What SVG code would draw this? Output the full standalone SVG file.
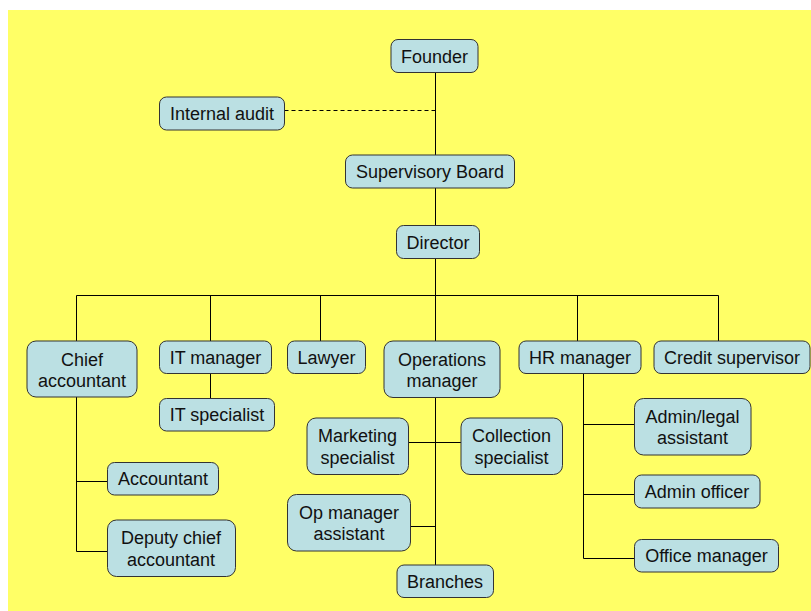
<svg xmlns="http://www.w3.org/2000/svg" width="811" height="611" viewBox="0 0 811 611">
<style>
.n rect{fill:#BBE0E3;stroke:#333;stroke-width:1}
.n text{font-family:"Liberation Sans",Arial,sans-serif;font-size:18px;fill:#111;text-anchor:middle}
.c line{stroke:#000;stroke-width:1;fill:none}
.c .d{stroke-dasharray:4,3}
</style>
<rect x="8" y="10" width="803" height="601" fill="#FFFF66"/>
<g class="c">
<line x1="435.5" y1="72.5" x2="435.5" y2="155"/>
<line class="d" x1="284.5" y1="110.5" x2="435.5" y2="110.5"/>
<line x1="435.5" y1="188" x2="435.5" y2="225"/>
<line x1="435.5" y1="258" x2="435.5" y2="341"/>
<line x1="76.5" y1="295.5" x2="718.5" y2="295.5"/>
<line x1="76.5" y1="295.5" x2="76.5" y2="341"/>
<line x1="210.5" y1="295.5" x2="210.5" y2="341"/>
<line x1="320.5" y1="295.5" x2="320.5" y2="341"/>
<line x1="577.5" y1="295.5" x2="577.5" y2="341"/>
<line x1="718.5" y1="295.5" x2="718.5" y2="341"/>
<line x1="210.5" y1="373" x2="210.5" y2="398"/>
<line x1="76.5" y1="397" x2="76.5" y2="551.5"/>
<line x1="76.5" y1="481.5" x2="107.5" y2="481.5"/>
<line x1="76.5" y1="551.5" x2="107.5" y2="551.5"/>
<line x1="435.5" y1="397.5" x2="435.5" y2="565"/>
<line x1="408.5" y1="442.5" x2="461" y2="442.5"/>
<line x1="410.5" y1="526.5" x2="435.5" y2="526.5"/>
<line x1="583.5" y1="373" x2="583.5" y2="558.5"/>
<line x1="583.5" y1="424.5" x2="634.5" y2="424.5"/>
<line x1="583.5" y1="494.5" x2="634.5" y2="494.5"/>
<line x1="583.5" y1="558.5" x2="634.5" y2="558.5"/>
</g>
<g id="founder" class="n"><rect x="391" y="39.5" width="87" height="33" rx="7"/><text x="434.5" y="62.5">Founder</text></g>
<g id="internal-audit" class="n"><rect x="159.5" y="97" width="125" height="33" rx="7"/><text x="222" y="120">Internal audit</text></g>
<g id="supervisory-board" class="n"><rect x="345.5" y="155" width="169" height="33" rx="7"/><text x="430" y="178">Supervisory Board</text></g>
<g id="director" class="n"><rect x="396.5" y="225.5" width="83" height="33" rx="7"/><text x="438" y="248.5">Director</text></g>
<g id="chief-accountant" class="n"><rect x="27" y="341" width="110" height="56" rx="9"/><text x="82" y="365.5">Chief</text><text x="82" y="387">accountant</text></g>
<g id="it-manager" class="n"><rect x="159.5" y="341" width="112" height="32.5" rx="7"/><text x="215.5" y="363.5">IT manager</text></g>
<g id="it-specialist" class="n"><rect x="159.5" y="398.5" width="115" height="32.5" rx="7"/><text x="217" y="421">IT specialist</text></g>
<g id="lawyer" class="n"><rect x="287.5" y="341" width="78" height="32.5" rx="7"/><text x="326.5" y="363.5">Lawyer</text></g>
<g id="operations-manager" class="n"><rect x="384" y="341" width="116" height="56.5" rx="9"/><text x="442" y="365.5">Operations</text><text x="442" y="387">manager</text></g>
<g id="hr-manager" class="n"><rect x="519" y="341" width="122" height="32.5" rx="7"/><text x="580" y="363.5">HR manager</text></g>
<g id="credit-supervisor" class="n"><rect x="654" y="341" width="156" height="32.5" rx="7"/><text x="732" y="363.5">Credit supervisor</text></g>
<g id="marketing-specialist" class="n"><rect x="307" y="418" width="101.5" height="56.5" rx="9"/><text x="357.5" y="442">Marketing</text><text x="357.5" y="463.5">specialist</text></g>
<g id="collection-specialist" class="n"><rect x="461" y="418" width="101.5" height="56.5" rx="9"/><text x="511.5" y="442">Collection</text><text x="511.5" y="463.5">specialist</text></g>
<g id="admin-legal-assistant" class="n"><rect x="634.5" y="398.5" width="116.5" height="56.5" rx="9"/><text x="692.5" y="422.5">Admin/legal</text><text x="692.5" y="444">assistant</text></g>
<g id="admin-officer" class="n"><rect x="634.5" y="475" width="125.5" height="33" rx="7"/><text x="697" y="498">Admin officer</text></g>
<g id="office-manager" class="n"><rect x="634.5" y="539.5" width="144" height="32.5" rx="7"/><text x="706.5" y="562">Office manager</text></g>
<g id="accountant" class="n"><rect x="107.5" y="462.5" width="111" height="32.5" rx="7"/><text x="163" y="485">Accountant</text></g>
<g id="deputy-chief-accountant" class="n"><rect x="107.5" y="520" width="128" height="56.5" rx="9"/><text x="171" y="544">Deputy chief</text><text x="171" y="565.5">accountant</text></g>
<g id="op-manager-assistant" class="n"><rect x="287.5" y="494.5" width="123" height="56.5" rx="9"/><text x="349" y="518.5">Op manager</text><text x="349" y="540">assistant</text></g>
<g id="branches" class="n"><rect x="397" y="565" width="96.5" height="32.5" rx="7"/><text x="445" y="587.5">Branches</text></g>
</svg>
